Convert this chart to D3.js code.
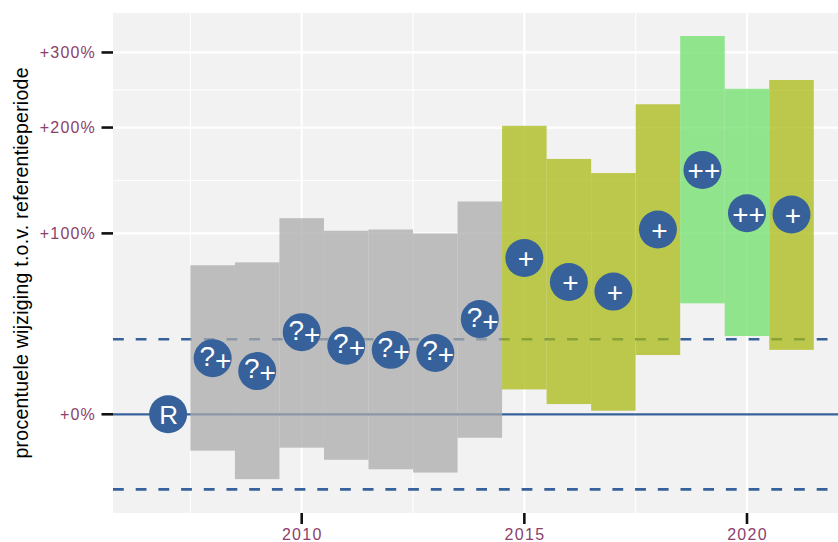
<!DOCTYPE html>
<html>
<head>
<meta charset="utf-8">
<script src="https://cdn.jsdelivr.net/npm/d3@7"></script>
<style>
  html, body { margin: 0; padding: 0; background: #ffffff; }
  svg { display: block; }
  text { font-family: "Liberation Sans", Arial, Helvetica, sans-serif; }
</style>
</head>
<body>
<svg id="chart" width="838" height="542"></svg>
<script>
// ---- data (percent change vs reference period) ----
const years    = [2008, 2009, 2010, 2011, 2012, 2013, 2014, 2015, 2016, 2017, 2018, 2019, 2020, 2021];
const lower    = [-13, -22, -12, -16, -19, -20, -8.6, 10, 4, 1.4, 25.5, 53, 35, 28];
const upper    = [77, 79, 112, 102, 103, 100, 126, 202, 166, 152, 228, 326, 248, 260];
const estimate = [24, 18, 37, 30, 28, 26.5, 44, 82, 66, 60, 103, 155, 116, 115];
const labels   = ["?+", "?+", "?+", "?+", "?+", "?+", "?+", "+", "+", "+", "+", "++", "++", "+"];
const refYear  = [2007];
const refValue = [0];
const refLabel = ["R"];
const thresholds = [33.333, -25];           // dashed reference lines
const yBreaks    = [0, 100, 200, 300];
const yMinor     = [144.95, 246.41];
const xBreaks    = [2010, 2015, 2020];
const xMinor     = [2007.5, 2012.5, 2017.5];
const yTitle     = "procentuele wijziging t.o.v. referentieperiode";

// ---- styles ----
const fillFor = { "?+": "#ababab", "+": "#a8ba14", "++": "#6fdf69" };
const pointColor = "#36619a";
const tickColor = "#8b416b";

// ---- layout ----
const panel = { left: 113, right: 838, top: 13, bottom: 513 };
const svg = d3.select("#chart");

const x = d3.scaleLinear().domain([2005.762, 2022.044]).range([panel.left, panel.right]);
const y = d3.scaleLog().domain([0.6851, 4.653]).range([panel.bottom, panel.top]);
const yp = p => y(1 + p / 100);

// panel background
svg.append("rect")
  .attr("x", panel.left).attr("y", panel.top)
  .attr("width", panel.right - panel.left).attr("height", panel.bottom - panel.top)
  .attr("fill", "#f2f2f2");

const grid = svg.append("g");
grid.selectAll(".ymin").data(yMinor).join("line")
  .attr("x1", panel.left).attr("x2", panel.right)
  .attr("y1", d => yp(d)).attr("y2", d => yp(d))
  .attr("stroke", "#ffffff").attr("stroke-width", 1.1);
grid.selectAll(".xmin").data(xMinor).join("line")
  .attr("y1", panel.top).attr("y2", panel.bottom)
  .attr("x1", d => x(d)).attr("x2", d => x(d))
  .attr("stroke", "#ffffff").attr("stroke-width", 1.1);
grid.selectAll(".ymaj").data(yBreaks).join("line")
  .attr("x1", panel.left).attr("x2", panel.right)
  .attr("y1", d => yp(d)).attr("y2", d => yp(d))
  .attr("stroke", "#ffffff").attr("stroke-width", 2.2);
grid.selectAll(".xmaj").data(xBreaks).join("line")
  .attr("y1", panel.top).attr("y2", panel.bottom)
  .attr("x1", d => x(d)).attr("x2", d => x(d))
  .attr("stroke", "#ffffff").attr("stroke-width", 2.2);

// reference lines
svg.append("line")
  .attr("x1", panel.left).attr("x2", panel.right)
  .attr("y1", yp(0)).attr("y2", yp(0))
  .attr("stroke", pointColor).attr("stroke-width", 2.2);
svg.selectAll(".thr").data(thresholds).join("line")
  .attr("x1", panel.left).attr("x2", panel.right)
  .attr("y1", d => yp(d)).attr("y2", d => yp(d))
  .attr("stroke", pointColor).attr("stroke-width", 2.6)
  .attr("stroke-dasharray", "10.8 11.9");

// interval bars
const rows = years.map((yr, i) => ({ yr, lo: lower[i], hi: upper[i], est: estimate[i], lab: labels[i] }));
svg.append("g").selectAll("rect").data(rows).join("rect")
  .attr("x", d => x(d.yr - 0.5))
  .attr("width", d => x(d.yr + 0.5) - x(d.yr - 0.5))
  .attr("y", d => yp(d.hi))
  .attr("height", d => yp(d.lo) - yp(d.hi))
  .attr("fill", d => fillFor[d.lab])
  .attr("fill-opacity", 0.75);

// points
const pts = rows.map(d => ({ yr: d.yr, est: d.est, lab: d.lab }))
  .concat(refYear.map((yr, i) => ({ yr, est: refValue[i], lab: refLabel[i] })));
const pg = svg.append("g").selectAll("g").data(pts).join("g")
  .attr("transform", d => `translate(${x(d.yr)},${yp(d.est)})`);
pg.append("circle").attr("r", 19).attr("fill", pointColor);
pg.each(function(d) {
  const g = d3.select(this);
  if (d.lab === "R") {
    g.append("text")
      .attr("text-anchor", "middle").attr("x", 0.5).attr("y", 9.5)
      .attr("fill", "#ffffff").attr("font-size", 26)
      .text(d.lab);
    return;
  }
  const t = g.append("text")
    .attr("text-anchor", "middle")
    .attr("x", d.lab === "?+" ? 2.8 : 1.5)
    .attr("y", 7.4)
    .attr("fill", "#ffffff").attr("font-size", 28);
  const hasQ = d.lab.startsWith("?");
  if (hasQ) t.append("tspan").text("?");
  t.append("tspan").attr("dy", hasQ ? 4 : 3).text(d.lab.replace("?", ""));
});

// axes ticks
svg.append("g").selectAll("line").data(yBreaks).join("line")
  .attr("x1", panel.left - 11.5).attr("x2", panel.left)
  .attr("y1", d => yp(d)).attr("y2", d => yp(d))
  .attr("stroke", "#111").attr("stroke-width", 2.6);
svg.append("g").selectAll("text").data(yBreaks).join("text")
  .attr("x", panel.left - 17).attr("y", d => yp(d) + 5.8)
  .attr("text-anchor", "end")
  .attr("fill", tickColor).attr("font-size", 16)
  .style("letter-spacing", "1.2px")
  .text(d => "+" + d + "%");

svg.append("g").selectAll("line").data(xBreaks).join("line")
  .attr("x1", d => x(d)).attr("x2", d => x(d))
  .attr("y1", panel.bottom).attr("y2", panel.bottom + 11)
  .attr("stroke", "#111").attr("stroke-width", 2.6);
svg.append("g").selectAll("text").data(xBreaks).join("text")
  .attr("x", d => x(d) + 0.6).attr("y", 539.6)
  .attr("text-anchor", "middle")
  .attr("fill", tickColor).attr("font-size", 16)
  .style("letter-spacing", "1.3px")
  .text(d => d);

// y title
svg.append("text")
  .attr("transform", `translate(28,${(panel.top + panel.bottom) / 2}) rotate(-90)`)
  .attr("text-anchor", "middle")
  .attr("fill", "#000")
  .attr("font-size", 19.5)
  .attr("textLength", 391)
  .attr("lengthAdjust", "spacing")
  .text(yTitle);
</script>
</body>
</html>
